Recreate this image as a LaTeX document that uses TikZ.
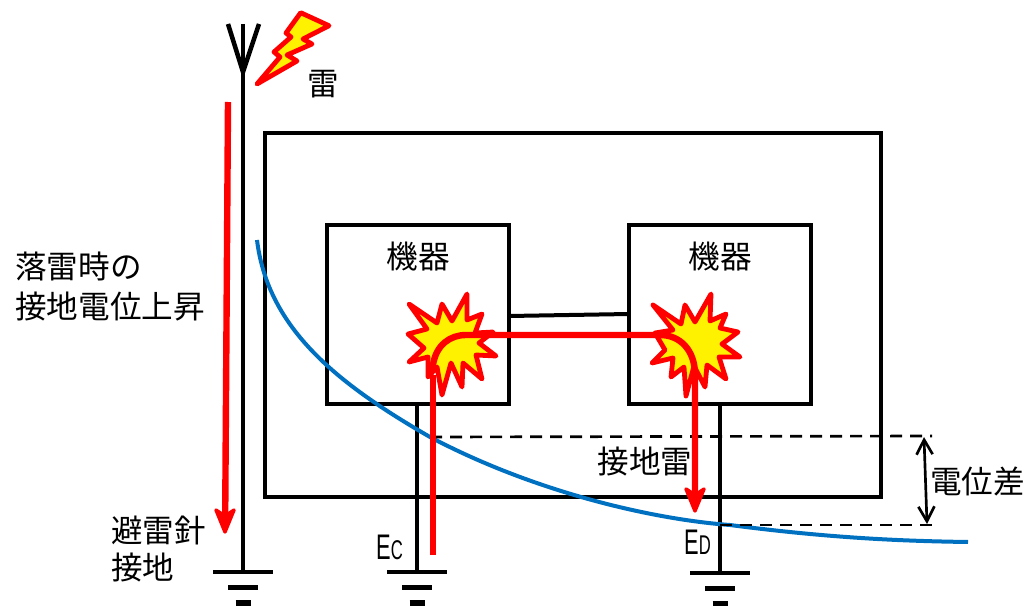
\documentclass[tikz,border=0pt]{standalone}
\usepackage{fontspec}
\setmainfont{Noto Sans CJK JP}
\newfontfamily\latinfont{Liberation Sans}
\usetikzlibrary{arrows.meta,calc}
\definecolor{curvecol}{RGB}{0,112,192}
\tikzset{
  px/.style={x=0.75pt,y=-0.75pt},
  wire/.style={draw=black,line width=3.4pt,line cap=butt},
  boxframe/.style={draw=black,line width=3pt,line join=miter,outer sep=0pt,inner sep=0pt,anchor=north west},
  gnd/.style={draw=black,line width=3.2pt},
  gndthick/.style={draw=black,line width=3.8pt},
  levelline/.style={draw=black,line width=2pt,dash pattern=on 9pt off 6pt},
  redflow/.style={draw=red,line width=4.8pt},
  redhead/.style={draw=red,fill=red,line width=2.6pt,line join=round},
  burst/.style={draw=red,fill=yellow,line width=3.6pt,line join=round},
  txt/.style={inner sep=0pt,font=\fontsize{23.7pt}{30pt}\selectfont,align=left,text=black},
  elabel/.style={inner sep=0pt,text=black}
}
\newcommand{\myredtip}[1]{\draw[redhead] ($(#1)+(0,-3)$) -- ($(#1)+(-9,-25)$) -- ($(#1)+(0,-19)$) -- ($(#1)+(9,-25)$) -- cycle;}
\begin{document}
\begin{tikzpicture}[px]
\useasboundingbox (0,0) rectangle (1025,606);
% named points
\coordinate (antTop) at (243,24);
\coordinate (antJoin) at (243,72);
\coordinate (antL) at (228,24);
\coordinate (antR) at (259,24);
\coordinate (g1) at (243,572);
\coordinate (g2) at (417,572);
\coordinate (g3) at (720,573);
% boxes
\node[boxframe,minimum width=462pt,minimum height=273pt] (outer) at (265,133) {};
\node[boxframe,fill=white,minimum width=136.5pt,minimum height=134.25pt] (devA) at (327,225) {};
\node[boxframe,fill=white,minimum width=136.5pt,minimum height=134.25pt] (devB) at (629,225) {};
\coordinate (linkA) at (509,316);
\coordinate (linkB) at (629,314);
\draw[wire,line width=3pt] (linkA) -- (linkB);
% antenna
\draw[wire] (antTop) -- (g1);
\draw[wire,line join=miter] (antL) -- (antJoin) -- (antR);
% ground symbols
\foreach \x/\y in {243/572,417/572,720/573}{
  \draw[gnd] (\x-30,\y) -- (\x+30,\y);
  \draw[gnd] (\x-15,\y+15.5) -- (\x+15,\y+15.5);
  \draw[gndthick] (\x-7.5,\y+31) -- (\x+7.5,\y+31);
}
\coordinate (a2) at (417,404);
\coordinate (b2) at (720,404);
\draw[wire] (a2) -- (g2);
\draw[wire] (b2) -- (g3);
% lightning
\draw[burst] (300.7,12.7) -- (329,25.7) -- (303,39) -- (312,44) -- (287,55) -- (297,61) -- (257,84) -- (280,57) -- (274,52) -- (291,37) -- (286,33) -- cycle;
% bursts
\draw[burst] (409,304) -- (437,323) -- (442,304) -- (452,321) -- (467,294) -- (467,320) -- (482,314) -- (475,333) -- (493,332) -- (479,343) -- (496,356) -- (476,355) -- (482,379) -- (463,363) -- (462,387) -- (451,363) -- (442,395) -- (437,367) -- (428,377) -- (428,357) -- (409,362) -- (424,348) -- (408,334) -- (427,329) -- cycle;
\draw[burst] (653,305) -- (681,324) -- (685,305) -- (695,322) -- (711,294) -- (710,321) -- (726,314) -- (720,328) -- (738,332) -- (722,344) -- (740,357) -- (719,357) -- (726,379) -- (707,365) -- (705,387) -- (694,366) -- (686,396) -- (684,367) -- (671,377) -- (673,358) -- (652,363) -- (665,350) -- (655,333) -- (673,330) -- cycle;
% blue curve
\coordinate (cs) at (257,240);
\coordinate (ce) at (968,542);
\draw[curvecol,line width=3pt] (cs) .. controls (268,330) and (340,385) .. (430,437) .. controls (540,495) and (660,520) .. (730,525) .. controls (830,538) and (900,541) .. (ce);
% dashed levels
\coordinate (d1a) at (430,437);
\coordinate (d1b) at (932,436);
\coordinate (d2a) at (720,525);
\coordinate (d2b) at (935,525);
\draw[levelline] (d1a) -- (d1b);
\draw[levelline] (d2a) -- (d2b);
\coordinate (pa) at (924,437);
\coordinate (pb) at (927,524);
\draw[draw=black,line width=2pt,{Straight Barb[length=11pt,width=12pt]}-{Straight Barb[length=11pt,width=12pt]}] (pa) -- (pb);
% red flows
\coordinate (r0) at (228,102);
\coordinate (r1) at (225,535);
\coordinate (r1s) at (225.2,516);
\coordinate (fl0) at (433,555);
\coordinate (fr1) at (695,514);
\coordinate (fr1s) at (695,495);
\draw[redflow] (r0) -- (r1s);
\myredtip{r1}
\draw[redflow] (fl0) -- (433,375);
\draw[redflow] (430,375) -- (433,365) .. controls (436,345) and (450,335) .. (466,335) -- (660,335) .. controls (680,335) and (695,350) .. (695,375) -- (fr1s);
\myredtip{fr1}
% labels
\node[txt,anchor=center] (t0) at (323,84) {雷};
\node[txt,anchor=center] (t1) at (418,257) {機器};
\node[txt,anchor=center] (t2) at (720,257) {機器};
\node[txt,anchor=west] (t3) at (15,266) {落雷時の};
\node[txt,anchor=west] (t4) at (15,307) {接地電位上昇};
\node[txt,anchor=center] (t5) at (645,462) {接地雷};
\node[txt,anchor=west] (t6) at (930,481) {電位差};
\node[txt,anchor=west] (t7) at (111,530) {避雷針};
\node[txt,anchor=west] (t8) at (111,568) {接地};
\node[elabel,anchor=center] (t9) at (389.5,547) {\latinfont\fontsize{21pt}{21pt}\selectfont\scalebox{0.78}[1.27]{E\fontsize{16pt}{16pt}\selectfont C}};
\node[elabel,anchor=center] (t10) at (697.5,542) {\latinfont\fontsize{21pt}{21pt}\selectfont\scalebox{0.78}[1.27]{E\fontsize{16pt}{16pt}\selectfont D}};
\end{tikzpicture}
\end{document}
